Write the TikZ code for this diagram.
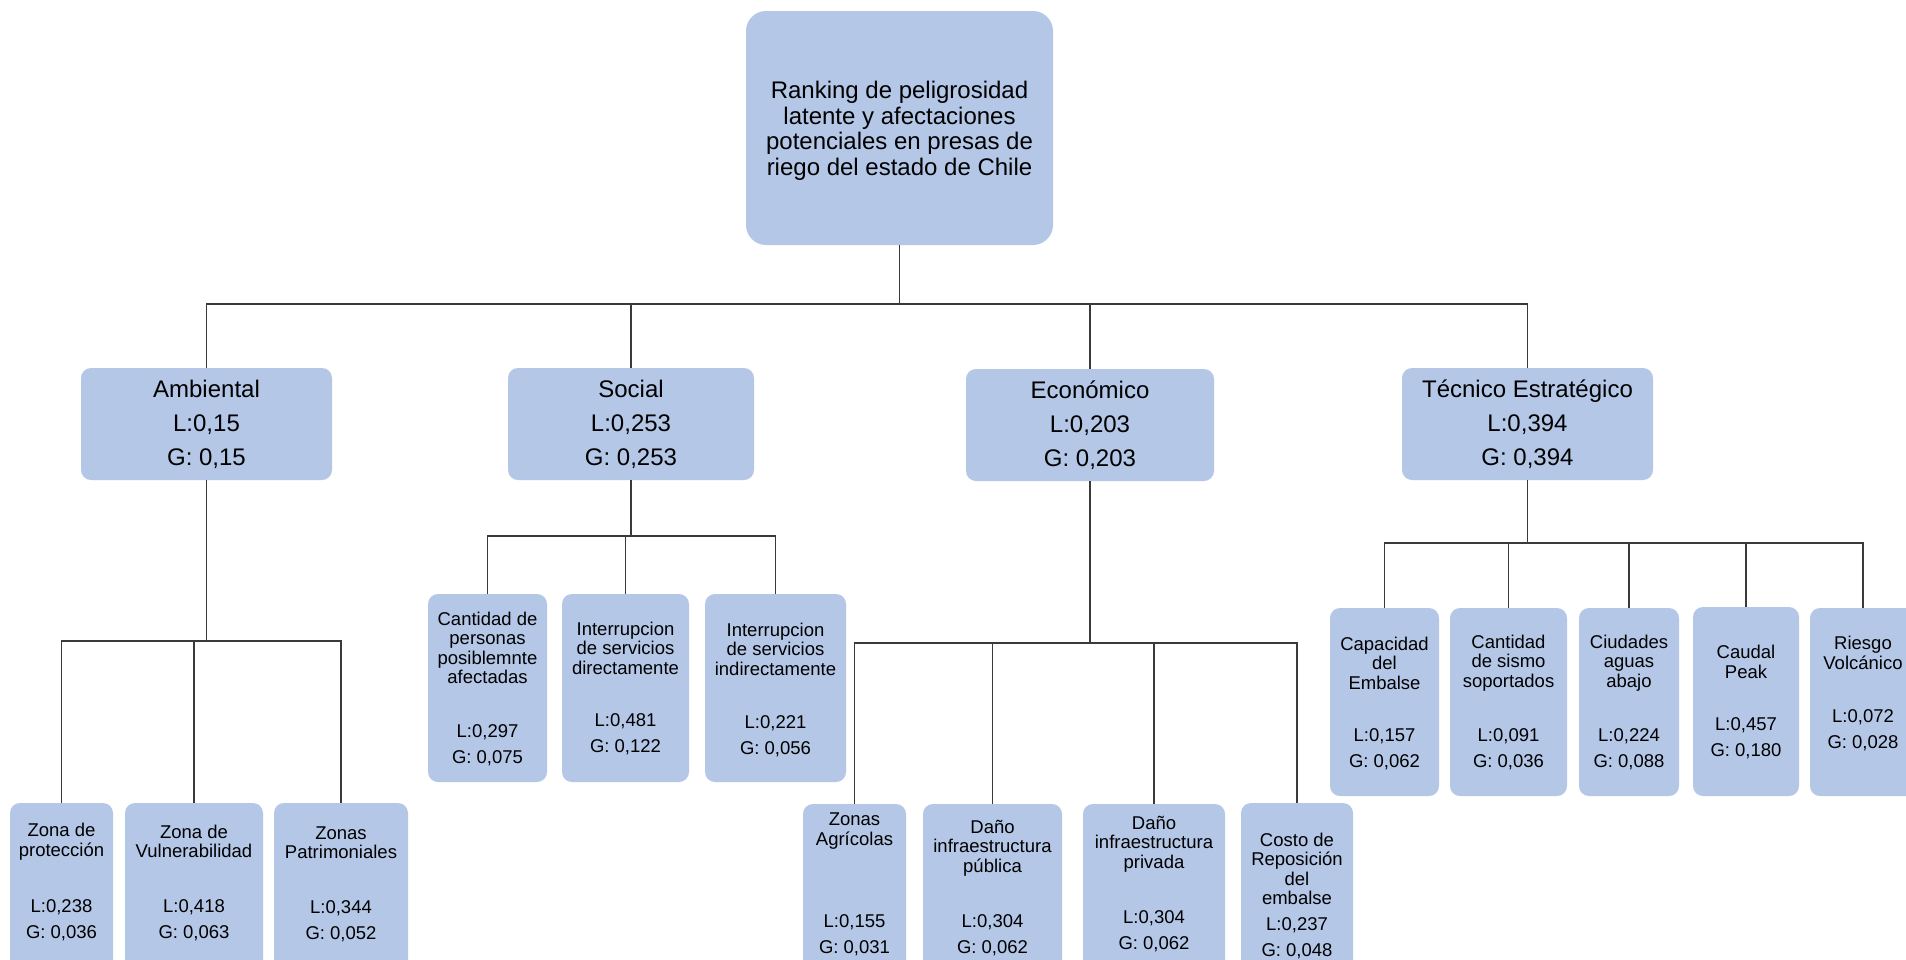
\documentclass[tikz,border=0pt]{standalone}
\usepackage{fontspec}
\setmainfont{Liberation Sans}
\definecolor{boxblue}{HTML}{B4C7E7}
\definecolor{linegray}{HTML}{3A3A3A}
\tikzset{
  rootbox/.style={fill=boxblue, rounded corners=20pt, inner sep=0pt},
  roottext/.style={inner sep=0pt, align=center, font=\fontsize{24}{25.5}\selectfont},
  catbox/.style={fill=boxblue, rounded corners=10pt, inner sep=0pt, align=center,
    minimum height=112pt, font=\fontsize{24}{34}\selectfont},
  leaf/.style={fill=boxblue, rounded corners=10pt, inner sep=0pt},
  ttl/.style={inner sep=0pt, align=center, font=\fontsize{18.5}{19.5}\selectfont},
  val/.style={inner sep=0pt, align=center, font=\fontsize{18.5}{26}\selectfont},
  conn/.style={draw=linegray, line width=1.6pt}
}
\newcommand\leafnode[9]{%
  \node[leaf, minimum width=#4pt, minimum height=#5pt] (#1) at (#2,#3) {};
  \node[ttl] (#1t) at (#2,#6) {#7};
  \node[val] (#1v) at (#2,#8) {#9};
}
\begin{document}
\begin{tikzpicture}[x=1pt, y=-1pt]
\useasboundingbox (0,0) rectangle (1906,959);
\clip (0,0) rectangle (1906,959);
\fill[white] (0,0) rectangle (1906,959);

% root
\node[rootbox, minimum width=307pt, minimum height=234pt] (root) at (899.5,128) {};
\node[roottext] (roott) at (899.5,131)
  {Ranking de peligrosidad\\latente y afectaciones\\potenciales en presas de\\riego del estado de Chile};

% level 1
\node[catbox, minimum width=251pt] (amb) at (206.5,424) {Ambiental\\L:0,15\\G: 0,15};
\node[catbox, minimum width=246pt] (soc) at (631,424) {Social\\L:0,253\\G: 0,253};
\node[catbox, minimum width=248pt] (eco) at (1090,425) {Económico\\L:0,203\\G: 0,203};
\node[catbox, minimum width=251pt] (tec) at (1527.5,424) {Técnico Estratégico\\L:0,394\\G: 0,394};

% Ambiental leaves
\leafnode{a1}{61.5}{897}{103}{188}{841.5}{Zona de\\protección}{920}{L:0,238\\G: 0,036}
\leafnode{a2}{194}{897}{138}{188}{841.5}{Zona de\\Vulnerabilidad}{920}{L:0,418\\G: 0,063}
\leafnode{a3}{341}{897}{134}{188}{842.5}{Zonas\\Patrimoniales}{921}{L:0,344\\G: 0,052}

% Social leaves
\leafnode{s1}{487.5}{688}{119}{188}{648}{Cantidad de\\personas\\posiblemnte\\afectadas}{745}{L:0,297\\G: 0,075}
\leafnode{s2}{625.5}{688}{127}{188}{648}{Interrupcion\\de servicios\\directamente}{734}{L:0,481\\G: 0,122}
\leafnode{s3}{775.5}{688}{141}{188}{649}{Interrupcion\\de servicios\\indirectamente}{736}{L:0,221\\G: 0,056}

% Economico leaves
\leafnode{e1}{854.5}{898}{103}{188}{831}{Zonas\\Agrícolas}{935}{L:0,155\\G: 0,031}
\leafnode{e2}{992.5}{898}{139}{188}{848}{Daño\\infraestructura\\pública}{935}{L:0,304\\G: 0,062}
\leafnode{e3}{1154}{898}{142}{188}{844}{Daño\\infraestructura\\privada}{931}{L:0,304\\G: 0,062}
\leafnode{e4}{1297}{897}{112}{188}{869}{Costo de\\Reposición\\del\\embalse}{938.5}{L:0,237\\G: 0,048}

% Tecnico leaves
\leafnode{t1}{1384.5}{702}{109}{188}{663}{Capacidad\\del\\Embalse}{749}{L:0,157\\G: 0,062}
\leafnode{t2}{1508.5}{702}{117}{188}{663}{Cantidad\\de sismo\\soportados}{749}{L:0,091\\G: 0,036}
\leafnode{t3}{1629}{702}{100}{188}{663}{Ciudades\\aguas\\abajo}{749}{L:0,224\\G: 0,088}
\leafnode{t4}{1746}{701.5}{106}{189}{662}{Caudal\\Peak}{738}{L:0,457\\G: 0,180}
\leafnode{t5}{1863}{702}{106}{188}{653}{Riesgo\\Volcánico}{730}{L:0,072\\G: 0,028}

% bus levels
\coordinate (rb) at (0,304);
\coordinate (ab) at (0,641);
\coordinate (sb) at (0,536);
\coordinate (eb) at (0,643);
\coordinate (tb) at (0,543);

% root to categories
\draw[conn] (root.south) -- (root.south |- rb);
\draw[conn] (amb.north) -- (amb.north |- rb) -- (tec.north |- rb) -- (tec.north);
\draw[conn] (soc.north) -- (soc.north |- rb);
\draw[conn] (eco.north) -- (eco.north |- rb);

% Ambiental
\draw[conn] (amb.south) -- (amb.south |- ab);
\draw[conn] (a1.north) -- (a1.north |- ab) -- (a3.north |- ab) -- (a3.north);
\draw[conn] (a2.north) -- (a2.north |- ab);

% Social
\draw[conn] (soc.south) -- (soc.south |- sb);
\draw[conn] (s1.north) -- (s1.north |- sb) -- (s3.north |- sb) -- (s3.north);
\draw[conn] (s2.north) -- (s2.north |- sb);

% Economico
\draw[conn] (eco.south) -- (eco.south |- eb);
\draw[conn] (e1.north) -- (e1.north |- eb) -- (e4.north |- eb) -- (e4.north);
\draw[conn] (e2.north) -- (e2.north |- eb);
\draw[conn] (e3.north) -- (e3.north |- eb);

% Tecnico
\draw[conn] (tec.south) -- (tec.south |- tb);
\draw[conn] (t1.north) -- (t1.north |- tb) -- (t5.north |- tb) -- (t5.north);
\draw[conn] (t2.north) -- (t2.north |- tb);
\draw[conn] (t3.north) -- (t3.north |- tb);
\draw[conn] (t4.north) -- (t4.north |- tb);
\end{tikzpicture}
\end{document}
